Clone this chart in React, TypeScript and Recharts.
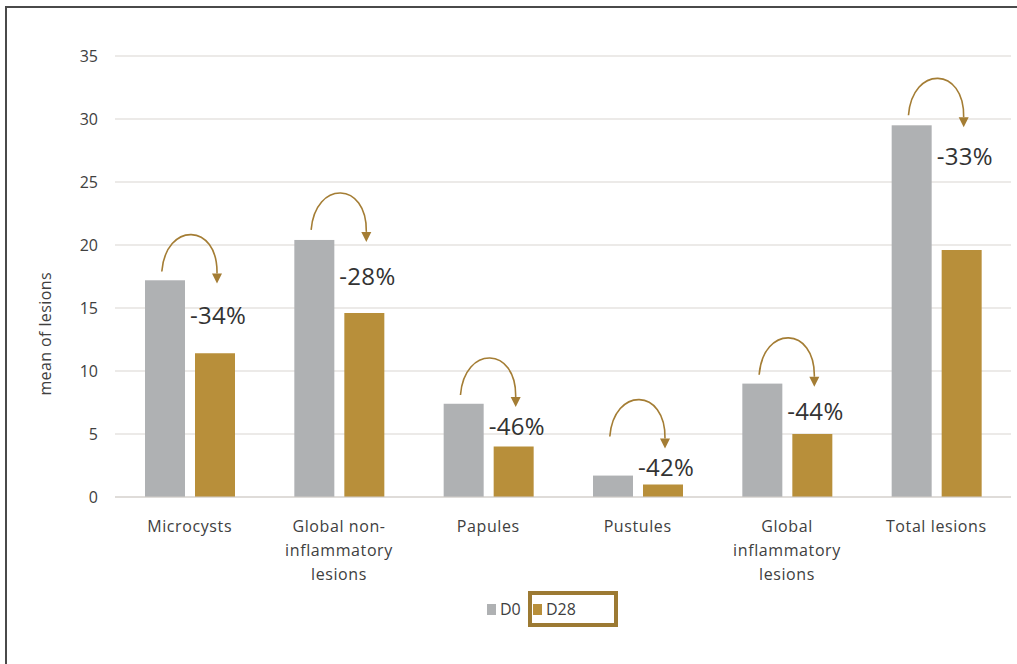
import React from "react";
import { BarChart, Bar, XAxis, YAxis, CartesianGrid, Legend, Label } from "recharts";

const categories = [
  "Microcysts",
  "Global non-inflammatory lesions",
  "Papules",
  "Pustules",
  "Global inflammatory lesions",
  "Total lesions",
];
const tickLines = [
  ["Microcysts"],
  ["Global non-", "inflammatory", "lesions"],
  ["Papules"],
  ["Pustules"],
  ["Global", "inflammatory", "lesions"],
  ["Total lesions"],
];
const d0Values = [17.2, 20.4, 7.4, 1.7, 9.0, 29.5];
const d28Values = [11.4, 14.6, 4.0, 1.0, 5.0, 19.6];
const changeLabels = ["-34%", "-28%", "-46%", "-42%", "-44%", "-33%"];
// vertical level (in axis units) of the percentage annotation and of the arrow start
const labelLevels = [14.5, 17.6, 5.7, 2.4, 6.9, 27.1];
const arrowLevels = [17.9, 21.2, 8.1, 4.8, 9.7, 30.3];
const yTicks = [0, 5, 10, 15, 20, 25, 30, 35];

const data = categories.map((name, i) => ({
  name,
  idx: i,
  d0: d0Values[i],
  d28: d28Values[i],
  change: changeLabels[i],
  labelLevel: labelLevels[i],
  arrowLevel: arrowLevels[i],
}));

const GRAY = "#AFB1B3";
const GOLD = "#B88F3A";
const ARROW = "#A47D34";
const TEXT = "#404040";
const FONT = "'Open Sans', sans-serif";
const BAR_SIZE = 40;
const BAR_GAP = 10;

function D0Shape(props: any) {
  const { x, y, width, height, payload, fill } = props;
  const base = y + height;
  const ppu = height / payload.d0;
  const toY = (v: number) => base - v * ppu;
  const sx = x + width * 0.42;
  const sy = toY(payload.arrowLevel);
  const tx = x + width + BAR_GAP + width / 2 + 2;
  const tipY = sy + 12;
  const headTop = tipY - 10;
  const path = `M ${sx} ${sy} C ${sx + 4} ${sy - 50}, ${tx + 1} ${sy - 49}, ${tx} ${headTop}`;
  const ly = toY(payload.labelLevel);
  return (
    <g>
      <rect x={x} y={y} width={width} height={height} fill={fill} />
      <path d={path} fill="none" stroke={ARROW} strokeWidth={1.6} />
      <polygon
        points={`${tx - 5},${headTop} ${tx + 5},${headTop} ${tx},${tipY}`}
        fill={ARROW}
      />
      <text
        x={x + width + 5}
        y={ly}
        dominantBaseline="central"
        fontFamily={FONT}
        fontSize={24}
        letterSpacing={0.3}
        fill="#333333"
      >
        {payload.change}
      </text>
    </g>
  );
}

function CategoryTick(props: any) {
  const { x, y, payload } = props;
  const lines = tickLines[payload.index] || [String(payload.value)];
  return (
    <text
      x={x}
      y={y}
      textAnchor="middle"
      fontFamily={FONT}
      fontSize={16}
      letterSpacing={0.6}
      fill={TEXT}
    >
      {lines.map((l, i) => (
        <tspan key={i} x={x} dy={i === 0 ? 33 : 24}>
          {l}
        </tspan>
      ))}
    </text>
  );
}

function LegendContent() {
  return (
    <div style={{ position: "relative", height: 40, fontFamily: FONT, fontSize: 16, color: TEXT }}>
      <div style={{ position: "absolute", left: 487, top: 6, display: "flex", alignItems: "center", height: 28 }}>
        <span style={{ display: "inline-block", width: 9, height: 11, background: GRAY, marginRight: 4 }} />
        <span>D0</span>
      </div>
      <div
        style={{
          position: "absolute",
          left: 528,
          top: 2,
          width: 90,
          height: 36,
          boxSizing: "border-box",
          border: "4px solid #9C7A33",
          display: "flex",
          alignItems: "center",
          paddingLeft: 1,
        }}
      >
        <span style={{ display: "inline-block", width: 9, height: 11, background: GOLD, marginRight: 4 }} />
        <span>D28</span>
      </div>
    </div>
  );
}

export default function App() {
  return (
    <div style={{ position: "absolute", left: 0, top: 0, width: 1017, height: 664, background: "#fff", overflow: "hidden" }}>
      <div style={{ position: "absolute", left: 5, top: 6, width: 1012, height: 2, background: "#4a4a4a" }} />
      <div style={{ position: "absolute", left: 5, top: 6, width: 2, height: 658, background: "#4a4a4a" }} />
      <BarChart
        width={1017}
        height={664}
        data={data}
        margin={{ top: 56, right: 6, left: 0, bottom: 35 }}
        barSize={BAR_SIZE}
        barGap={BAR_GAP}
      >
        <CartesianGrid vertical={false} stroke="#D9D5D1" strokeWidth={1.2} />
        <XAxis
          dataKey="name"
          height={92}
          interval={0}
          tickLine={false}
          tickSize={0}
          axisLine={{ stroke: "#D2CECA", strokeWidth: 1.2 }}
          tick={<CategoryTick />}
        />
        <YAxis
          width={115}
          domain={[0, 35]}
          ticks={yTicks}
          interval={0}
          tickLine={false}
          axisLine={false}
          tickSize={0}
          tickMargin={17}
          tick={{ fontFamily: FONT, fontSize: 16, fill: TEXT }}
        >
          <Label
            content={(p: any) => {
              const vb = p.viewBox || {};
              const cx = 45;
              const cy = (vb.y || 56) + (vb.height || 441) * 0.63;
              return (
                <text
                  x={cx}
                  y={cy}
                  transform={`rotate(-90, ${cx}, ${cy})`}
                  textAnchor="middle"
                  dominantBaseline="central"
                  fontFamily={FONT}
                  fontSize={16}
                  letterSpacing={0.4}
                  fill={TEXT}
                >
                  mean of lesions
                </text>
              );
            }}
          />
        </YAxis>
        <Legend verticalAlign="bottom" content={<LegendContent />} />
        <Bar dataKey="d0" name="D0" fill={GRAY} isAnimationActive={false} shape={<D0Shape />} />
        <Bar dataKey="d28" name="D28" fill={GOLD} isAnimationActive={false} />
      </BarChart>
    </div>
  );
}
